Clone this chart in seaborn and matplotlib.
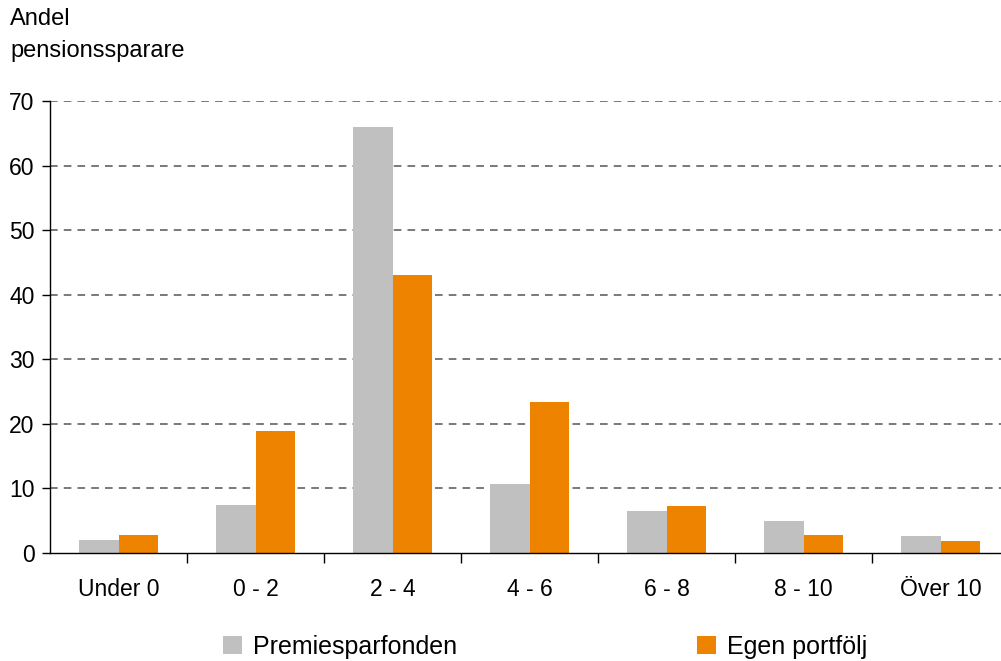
import matplotlib
matplotlib.use("Agg")
import matplotlib.pyplot as plt
import seaborn as sns
import pandas as pd
from matplotlib.patches import Patch

categories = ["Under 0", "0 - 2", "2 - 4", "4 - 6", "6 - 8", "8 - 10", "Över 10"]
premiesparfonden = [2.0, 7.4, 66.0, 10.7, 6.5, 5.0, 2.6]
egen_portfolj = [2.8, 18.9, 43.0, 23.4, 7.3, 2.8, 1.9]
series_names = ["Premiesparfonden", "Egen portfölj"]
colors = ["#c0c0c0", "#ee8300"]

df = pd.DataFrame({
    "cat": categories * 2,
    "val": premiesparfonden + egen_portfolj,
    "serie": [series_names[0]] * len(categories) + [series_names[1]] * len(categories),
})

sns.set_theme(style="white")
plt.rcParams["font.family"] = ["Liberation Sans", "DejaVu Sans"]

fig = plt.figure(figsize=(10.01, 6.61), dpi=100)
W, H = 1001, 661
ax = fig.add_axes([50 / W, (H - 553) / H, 959 / W, (553 - 101) / H])

sns.barplot(data=df, x="cat", y="val", hue="serie", palette=colors,
            width=0.57, saturation=1, ax=ax, legend=False, edgecolor="none")

ax.set_ylim(0, 70)
ax.set_xlim(-0.5, 6.5)
ax.set_yticks(range(0, 71, 10))
ax.set_xlabel("")
ax.set_ylabel("")

for y in range(10, 71, 10):
    ax.axhline(y, color="#555555", linestyle=(0, (5, 4)), linewidth=1.1, zorder=0)

for s in ["top", "right"]:
    ax.spines[s].set_visible(False)
for s in ["left", "bottom"]:
    ax.spines[s].set_color("black")
    ax.spines[s].set_linewidth(1.0)

ax.tick_params(axis="y", which="major", left=True, length=6, width=1, color="black",
               labelsize=16.5, pad=5, direction="out")
ax.tick_params(axis="x", which="major", bottom=False, labelsize=16.5, pad=12)
ax.set_xticks(range(len(categories)))
ax.set_xticklabels(categories)
ax.set_xticks([i + 0.5 for i in range(len(categories) - 1)], minor=True)
ax.tick_params(axis="x", which="minor", bottom=True, length=7, width=1, color="black", direction="out")
for lbl in ax.get_yticklabels() + ax.get_xticklabels():
    lbl.set_color("black")

fig.text(10 / W, 1 - 19 / H, "Andel", fontsize=17, color="black", va="center", ha="left")
fig.text(10 / W, 1 - 51 / H, "pensionssparare", fontsize=17, color="black", va="center", ha="left")

# legend entries
for xpos, name, col in [(223, series_names[0], colors[0]), (697, series_names[1], colors[1])]:
    leg = fig.legend(handles=[Patch(facecolor=col, edgecolor="none", label=name)],
                     loc="center left", bbox_to_anchor=(xpos / W, 1 - 647 / H),
                     frameon=False, fontsize=18, handlelength=0.75, handleheight=0.75,
                     handletextpad=0.45, borderaxespad=0, borderpad=0,
                     labelcolor="black")

fig.savefig("out.png", dpi=100)
